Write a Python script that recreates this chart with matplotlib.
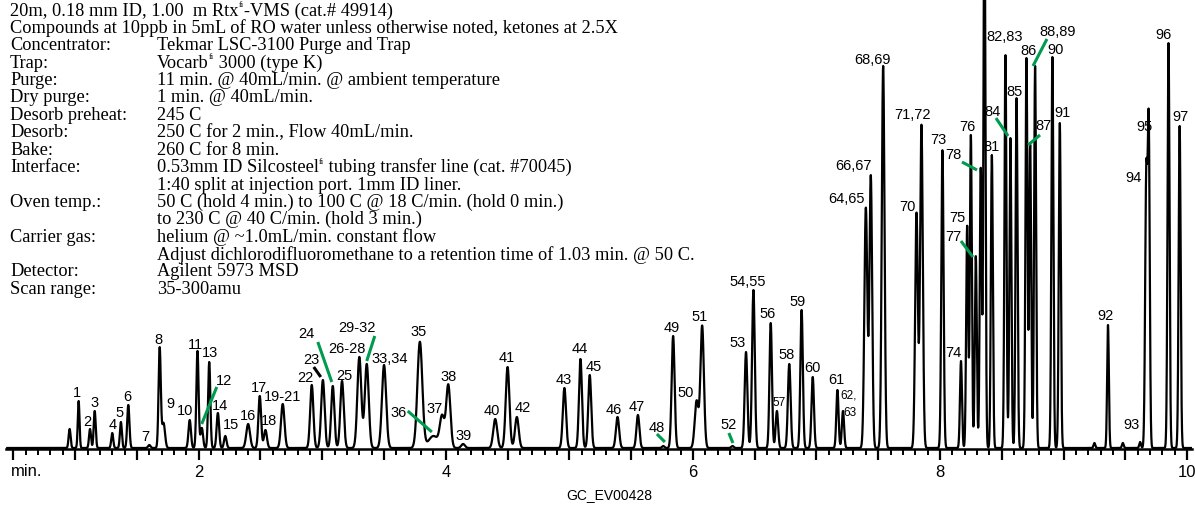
import numpy as np
import matplotlib
matplotlib.use("Agg")
import matplotlib.pyplot as plt
from matplotlib.ticker import MultipleLocator, FuncFormatter

# --------- peaks (min, height in px above baseline, sigma in min) ---------
peak_rt = [0.955, 1.028, 1.12, 1.158, 1.30, 1.37, 1.43, 1.60, 1.684, 1.715,
           1.927, 1.99, 2.025, 2.085, 2.155, 2.215, 2.40, 2.494, 2.54, 2.68,
           2.915, 3.005, 3.085, 3.16, 3.30, 3.36, 3.50, 3.79, 3.90, 3.97,
           4.02, 4.14, 4.40, 4.50, 4.575, 4.96, 5.09, 5.165, 5.39, 5.555,
           5.76, 5.84, 6.03, 6.075, 6.32, 6.43, 6.49, 6.63, 6.68, 6.78,
           6.88, 6.97, 7.17, 7.215, 7.40, 7.44, 7.54, 7.81, 7.85, 8.02,
           8.17, 8.22, 8.25, 8.29, 8.33, 8.36, 8.42, 8.53, 8.57, 8.62,
           8.70, 8.73, 8.77, 8.91, 8.97, 9.25, 9.36, 9.48, 9.62, 9.67,
           9.69, 9.85, 9.94]
peak_h = [19, 47, 19, 37, 15, 26, 43, 3, 100, 25,
          28, 97, 20, 86, 35, 12, 24, 52, 18, 44,
          63, 68, 62, 67, 91, 84, 83, 106, 12, 30,
          63, 4, 29, 81, 31, 60, 89, 73, 31, 33,
          2, 112, 47, 122, 2, 96, 158, 125, 37, 84,
          138, 71, 58, 37, 240, 272, 382, 235, 323, 298,
          87, 222, 313, 192, 280, 560, 293, 393, 310, 350,
          390, 303, 382, 391, 325, 5, 123, 5, 6, 272,
          312, 405, 322]
peak_w = [0.008, 0.007, 0.008, 0.008, 0.008, 0.008, 0.009, 0.010, 0.009, 0.012,
          0.010, 0.009, 0.010, 0.009, 0.010, 0.010, 0.015, 0.011, 0.012, 0.014,
          0.013, 0.014, 0.013, 0.014, 0.016, 0.016, 0.017, 0.020, 0.040, 0.018,
          0.017, 0.015, 0.016, 0.015, 0.015, 0.013, 0.012, 0.012, 0.013, 0.012,
          0.010, 0.012, 0.015, 0.014, 0.010, 0.011, 0.011, 0.010, 0.010, 0.011,
          0.010, 0.010, 0.009, 0.009, 0.012, 0.011, 0.011, 0.011, 0.011, 0.009,
          0.008, 0.008, 0.008, 0.008, 0.008, 0.008, 0.008, 0.008, 0.008, 0.008,
          0.008, 0.008, 0.008, 0.008, 0.008, 0.007, 0.007, 0.007, 0.007, 0.009,
          0.008, 0.008, 0.008]

# --------- peak labels (text, min, height) ---------
lbl_txt = ["1", "2", "3", "4", "5", "6", "7", "8", "9", "10",
           "11", "13", "12", "14", "15", "16", "17", "18", "19-21", "22",
           "23", "24", "25", "26-28", "29-32", "33,34", "35", "36", "37", "38",
           "39", "40", "41", "42", "43", "44", "45", "46", "47", "48",
           "49", "50", "51", "52", "53", "54,55", "56", "58", "59", "60",
           "61", "64,65", "66,67", "68,69", "70", "71,72", "73", "74", "75", "76",
           "77", "78", "81", "82,83", "84", "85", "86", "87", "88,89", "90",
           "91", "92", "93", "94", "95", "96", "97"]
lbl_t = [1.012, 1.101, 1.158, 1.304, 1.360, 1.425, 1.571, 1.676, 1.773, 1.887,
         1.972, 2.090, 2.202, 2.170, 2.259, 2.397, 2.486, 2.567, 2.680, 2.866,
         2.915, 2.874, 3.182, 3.198, 3.279, 3.547, 3.781, 3.619, 3.911, 4.024,
         4.146, 4.372, 4.494, 4.623, 4.955, 5.085, 5.198, 5.360, 5.547, 5.709,
         5.830, 5.943, 6.057, 6.291, 6.364, 6.445, 6.607, 6.761, 6.850, 6.964,
         7.158, 7.247, 7.296, 7.457, 7.733, 7.781, 7.984, 8.105, 8.138, 8.219,
         8.105, 8.105, 8.421, 8.526, 8.429, 8.607, 8.713, 8.834, 8.955, 8.939,
         8.988, 9.336, 9.547, 9.563, 9.652, 9.806, 9.943]
lbl_h = [57, 28, 47, 25, 37, 53, 13, 110, 46, 39,
         105, 97, 69, 44, 25, 34, 62, 29, 53, 72,
         90, 116, 74, 101, 122, 91, 118, 37, 41, 73,
         14, 39, 92, 42, 70, 101, 83, 40, 43, 22,
         122, 57, 133, 25, 107, 168, 136, 95, 148, 82,
         70, 251, 284, 390, 243, 335, 310, 97, 232, 323,
         213, 295, 303, 413, 338, 358, 399, 324, 418, 400,
         337, 134, 25, 272, 323, 415, 333]
# smaller labels
small_txt = ["57", "62,", "63"]
small_t = [6.696, 7.263, 7.271]
small_h = [47, 54, 37]

# --------- leader lines (t0, h0, t1, h1) ---------
green_lines = [
    (2.146, 62, 2.024, 25),
    (2.964, 107, 3.077, 67),
    (3.425, 113, 3.360, 88),
    (3.692, 38, 3.887, 17),
    (5.709, 15, 5.773, 7),
    (6.291, 16, 6.324, 6),
    (8.170, 208, 8.267, 192),
    (8.178, 287, 8.300, 279),
    (8.453, 331, 8.551, 313),
    (8.810, 314, 8.713, 304),
    (8.866, 410, 8.753, 383),
]
black_lines = [(2.931, 82, 2.988, 72)]

# --------- method text (pieces: normal text / small raised "fi") ---------
header = [
    ["20m, 0.18 mm ID, 1.00  m Rtx", "^fi", "-VMS (cat.# 49914)"],
    ["Compounds at 10ppb in 5mL of RO water unless otherwise noted, ketones at 2.5X"],
]
cond_keys = ["Concentrator:", "Trap:", "Purge:", "Dry purge:", "Desorb preheat:",
             "Desorb:", "Bake:", "Interface:", "", "Oven temp.:", "",
             "Carrier gas:", "", "Detector:", "Scan range:"]
cond_vals = [
    ["Tekmar LSC-3100 Purge and Trap"],
    ["Vocarb", "^fi", " 3000 (type K)"],
    ["11 min. @ 40mL/min. @ ambient temperature"],
    ["1 min. @ 40mL/min."],
    ["245 C"],
    ["250 C for 2 min., Flow 40mL/min."],
    ["260 C for 8 min."],
    ["0.53mm ID Silcosteel", "^fi", " tubing transfer line (cat. #70045)"],
    ["1:40 split at injection port. 1mm ID liner."],
    ["50 C (hold 4 min.) to 100 C @ 18 C/min. (hold 0 min.)"],
    ["to 230 C @ 40 C/min. (hold 3 min.)"],
    ["helium @ ~1.0mL/min. constant flow"],
    ["Adjust dichlorodifluoromethane to a retention time of 1.03 min. @ 50 C."],
    ["Agilent 5973 MSD"],
    ["35-300amu"],
]

# --------- build trace ---------
t = np.linspace(0.45, 10.04, 12000)
y = np.full_like(t, 1.0)
for rt, h, w in zip(peak_rt, peak_h, peak_w):
    y += h * np.exp(-0.5 * ((t - rt) / w) ** 2)

W, H = 1195, 506
fig = plt.figure(figsize=(W / 100, H / 100), dpi=100)
ax = fig.add_axes([6 / W, 56 / H, 1186 / W, 450 / H])
ax.plot(t, y, color="black", lw=1.6)
ax.set_xlim(0.44, 10.04)
ax.set_ylim(0, 450)

for s in ["left", "right", "top"]:
    ax.spines[s].set_visible(False)
ax.spines["bottom"].set_linewidth(1.8)
ax.set_yticks([])
ax.xaxis.set_major_locator(MultipleLocator(0.5))
ax.xaxis.set_minor_locator(MultipleLocator(0.1))
ax.xaxis.set_major_formatter(FuncFormatter(
    lambda v, p: f"{int(round(v))}" if abs(v - round(v)) < 1e-6 and round(v) % 2 == 0 else ""))
ax.tick_params(axis="x", which="major", length=8, width=1.6, pad=3, labelsize=12)
ax.tick_params(axis="x", which="minor", length=4.5, width=1.4)
for lab in ax.get_xticklabels():
    lab.set_family("Liberation Sans")

ax.text(0.607, -22, "min.", ha="center", va="center", fontsize=12,
        family="Liberation Sans", clip_on=False)

sans = ["Liberation Sans Narrow", "Liberation Sans"]
for s, tt, hh in zip(lbl_txt, lbl_t, lbl_h):
    ax.text(tt, hh, s, ha="center", va="center", fontsize=10.5, family=sans)
for s, tt, hh in zip(small_txt, small_t, small_h):
    ax.text(tt, hh, s, ha="center", va="center", fontsize=8.5, family=sans)

for x0, y0, x1, y1 in green_lines:
    ax.plot([x0, x1], [y0, y1], color="#009b4e", lw=2.2, solid_capstyle="butt")
for x0, y0, x1, y1 in black_lines:
    ax.plot([x0, x1], [y0, y1], color="black", lw=2.2, solid_capstyle="butt")

# --------- text block ---------
serif = "Liberation Serif"
y0, dy = 11, 17.4
fs = 13.2


def put_line(x, yy, pieces):
    last = fig.text(x / W, yy, pieces[0], ha="left", va="center",
                    fontsize=fs, family=serif)
    sup = None
    for p in pieces[1:]:
        if p.startswith("^"):
            sup = ax.annotate(p[1:], xy=(1.0, 0.62), xycoords=last, ha="left",
                              va="bottom", fontsize=fs * 0.45, family=serif,
                              annotation_clip=False)
        else:
            last = ax.annotate(p, xy=(1.0, 0.0), xycoords=(sup, last), ha="left",
                               va="bottom", fontsize=fs, family=serif,
                               annotation_clip=False)


for i, line in enumerate(header):
    put_line(10, 1 - (y0 + i * dy) / H, line)
for i, (k, v) in enumerate(zip(cond_keys, cond_vals)):
    yy = 1 - (y0 + (i + 2) * dy) / H
    if k:
        fig.text(10 / W, yy, k, ha="left", va="center", fontsize=fs, family=serif)
    put_line(157, yy, v)

fig.text(609 / W, 1 - 495 / H, "GC_EV00428", ha="center", va="center",
         fontsize=10, family=sans)

fig.savefig("out.png", dpi=100)
